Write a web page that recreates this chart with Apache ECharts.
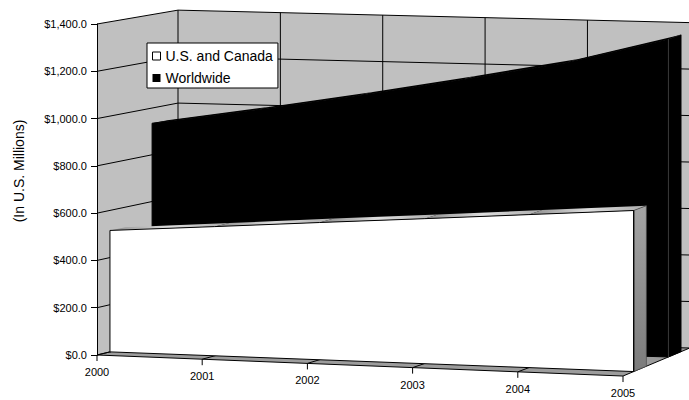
<!DOCTYPE html>
<html>
<head>
<meta charset="utf-8">
<script src="https://cdn.jsdelivr.net/npm/echarts@6/dist/echarts.min.js"></script>
<style>
  html, body { margin: 0; padding: 0; background: #fff; }
  #chart { width: 689px; height: 400px; }
</style>
</head>
<body>
<div id="chart"></div>
<script>
// Revenue by year (US$ millions)
const years = ['2000', '2001', '2002', '2003', '2004', '2005'];
const usCanada = [515, 548, 582, 615, 649, 683];
const worldwide = [935, 1005, 1080, 1160, 1245, 1360];
const yTicks = [0, 200, 400, 600, 800, 1000, 1200, 1400];

const FONT = '"Liberation Sans", Arial, Helvetica, sans-serif';
const WALL = '#c0c0c0';
const FLOOR = '#9c9c9c';
const LAST_X = years.length - 1;
const TOP_V = yTicks[yTicks.length - 1];

// Oblique 3-D view of the plot box. The grid is the front plane; depth 0..1
// runs from the front plane to the back wall.
const VIEW = {
  depthDX: 81,        // shift of the back wall's origin
  depthDY: -19.5,
  backScaleX: 0.973,  // back wall is slightly smaller (perspective)
  backScaleY: 0.983,
  frontSlope: 0.04,   // floor edge falls toward the right
  backSlope: 0.0244
};

function project(api, x, v, d) {
  const p = api.coord([x, v]);
  const o = api.coord([0, 0]);
  const fx = p[0];
  const fy = p[1] + VIEW.frontSlope * (p[0] - o[0]);
  const bx = o[0] + VIEW.depthDX + (p[0] - o[0]) * VIEW.backScaleX;
  const by = o[1] + VIEW.depthDY + (p[1] - o[1]) * VIEW.backScaleY
           + VIEW.backSlope * (bx - o[0] - VIEW.depthDX);
  return [fx + (bx - fx) * d, fy + (by - fy) * d];
}

function line(points, color, z2, width) {
  return {
    type: 'polyline', z2: z2 || 0,
    shape: { points: points },
    style: { stroke: color, lineWidth: width || 1, fill: null }
  };
}

// Left wall, back wall and floor
function renderWalls(params, api) {
  const P = (x, v, d) => project(api, x, v, d);
  return {
    type: 'group',
    children: [
      { type: 'polygon', shape: { points: [P(0, 0, 0), P(0, TOP_V, 0), P(0, TOP_V, 1), P(0, 0, 1)] },
        style: { fill: WALL } },
      { type: 'polygon', shape: { points: [P(0, 0, 1), P(LAST_X, 0, 1), P(LAST_X, TOP_V, 1), P(0, TOP_V, 1)] },
        style: { fill: WALL } },
      { type: 'polygon', shape: { points: [P(0, 0, 0), P(LAST_X, 0, 0), P(LAST_X, 0, 1), P(0, 0, 1)] },
        style: { fill: FLOOR } }
    ]
  };
}

// Value gridlines: across the left wall then along the back wall
function renderValueGrid(params, api) {
  const v = api.value(1);
  return line([project(api, 0, v, 0), project(api, 0, v, 1), project(api, LAST_X, v, 1)], '#000');
}

// Category gridlines: across the floor then up the back wall
function renderCategoryGrid(params, api) {
  const x = api.value(0);
  return line([project(api, x, 0, 0), project(api, x, 0, 1), project(api, x, TOP_V, 1)], '#000');
}

// One depth row of the 3-D area: front face (drawn once, from every point of
// the series), a top face per segment and the right side face.
function slab(look) {
  return function (params, api) {
    const k = params.dataIndexInside;
    const n = params.dataInsideLength;
    const x = api.value(0), v = api.value(1);
    const P = (a, b, d) => project(api, a, b, d);
    const kids = [];
    if (k === 0) {
      const tops = [];
      for (let j = 0; j < n; j++) tops.push(P(api.value(0, j), api.value(1, j), look.d0));
      const baseL = P(api.value(0, 0), 0, look.d0);
      const baseR = P(api.value(0, n - 1), 0, look.d0);
      const outline = [baseL].concat(tops, [baseR]);
      kids.push({ type: 'polygon', z2: 2, shape: { points: outline },
                  style: { fill: look.front, stroke: look.edge, lineWidth: 1 } });
    }
    if (k < n - 1) {
      const x2 = api.value(0, k + 1), v2 = api.value(1, k + 1);
      kids.push({ type: 'polygon', z2: 1,
        shape: { points: [P(x, v, look.d0), P(x2, v2, look.d0), P(x2, v2, look.d1), P(x, v, look.d1)] },
        style: { fill: look.top } });
    } else {
      const base = P(x, 0, look.d0), top = P(x, v, look.d0);
      kids.push({ type: 'polygon', z2: 1,
        shape: { points: [base, top, P(x, v, look.d1), P(x, 0, look.d1)] },
        style: { fill: look.side, stroke: look.sideEdge, lineWidth: 0.7 } });
      kids.push(line([base, top], look.rightEdge, 3));
    }
    return { type: 'group', children: kids };
  };
}

// Front floor edge with year ticks and labels
function renderCategoryAxis(params, api) {
  const k = params.dataIndexInside;
  const x = api.value(0);
  const a = project(api, x, 0, 0);
  const kids = [
    line([a, [a[0], a[1] + 6]], '#000', 2),
    { type: 'text', x: a[0], y: a[1] + 17,
      style: { text: years[params.dataIndex], align: 'center', verticalAlign: 'middle',
               fontFamily: FONT, fontSize: 11, fill: '#000' } }
  ];
  if (k < params.dataInsideLength - 1) {
    kids.push(line([a, project(api, api.value(0, k + 1), 0, 0)], '#000', 2));
  }
  return { type: 'group', children: kids };
}

const usLook = {
  d0: 0.16, d1: 0.35,
  front: '#ffffff',
  top: { type: 'linear', x: 0, y: 0, x2: 1, y2: 0,
         colorStops: [{ offset: 0, color: '#8a8a8a' }, { offset: 0.5, color: '#dedede' }, { offset: 1, color: '#aaaaaa' }] },
  side: { type: 'linear', x: 0, y: 0, x2: 0, y2: 1,
          colorStops: [{ offset: 0, color: '#a4a4a4' }, { offset: 1, color: '#7c7c7c' }] },
  edge: '#000', rightEdge: '#000', sideEdge: '#4a4a4a'
};
const wwLook = {
  d0: 0.68, d1: 0.87,
  front: '#000000', top: '#000000', side: '#000000',
  edge: '#000', rightEdge: '#3a3a3a', sideEdge: '#000'
};

const chart = echarts.init(document.getElementById('chart'), null, { renderer: 'svg', width: 689, height: 400 });

chart.setOption({
  animation: false,
  backgroundColor: '#fff',
  grid: { left: 97, top: 24, right: 66, bottom: 45, containLabel: false },
  xAxis: {
    type: 'category', data: years, boundaryGap: false, show: false
  },
  yAxis: {
    type: 'value', min: 0, max: TOP_V, interval: 200, z: 10,
    axisLine: { show: true, lineStyle: { color: '#000', width: 1 } },
    axisTick: { show: true, length: 6, lineStyle: { color: '#000' } },
    splitLine: { show: false },
    axisLabel: {
      margin: 10, color: '#000', fontFamily: FONT, fontSize: 11,
      formatter: v => '$' + v.toLocaleString('en-US', { minimumFractionDigits: 1, maximumFractionDigits: 1 })
    }
  },
  legend: {
    orient: 'vertical', left: 147, top: 43, z: 20,
    padding: [6, 5, 3, 5], itemGap: 8, itemWidth: 8, itemHeight: 8,
    backgroundColor: '#fff', borderColor: '#000', borderWidth: 1, borderRadius: 0,
    selectedMode: false,
    textStyle: { fontFamily: FONT, fontSize: 14, color: '#000' },
    data: [
      { name: 'U.S. and Canada', icon: 'rect', itemStyle: { color: '#fff', borderColor: '#000', borderWidth: 1 } },
      { name: 'Worldwide', icon: 'rect', itemStyle: { color: '#000', borderWidth: 0 } }
    ]
  },
  graphic: [{
    type: 'text', x: 19, y: 171, rotation: Math.PI / 2,
    style: { text: '(In U.S. Millions)', align: 'center', verticalAlign: 'middle',
             fontFamily: FONT, fontSize: 14, fill: '#000' }
  }],
  series: [
    { type: 'custom', name: 'walls', z: 0, silent: true,
      data: [[0, 0]], renderItem: renderWalls },
    { type: 'custom', name: 'valueGrid', z: 1, silent: true,
      data: yTicks.map(v => [0, v]), renderItem: renderValueGrid },
    { type: 'custom', name: 'categoryGrid', z: 1, silent: true,
      data: years.map((y, i) => [i, 0]), renderItem: renderCategoryGrid },
    { type: 'custom', name: 'Worldwide', z: 2, itemStyle: { color: '#000' },
      data: worldwide.map((v, i) => [i, v]), renderItem: slab(wwLook) },
    { type: 'custom', name: 'U.S. and Canada', z: 3, itemStyle: { color: '#fff' },
      data: usCanada.map((v, i) => [i, v]), renderItem: slab(usLook) },
    { type: 'custom', name: 'categoryAxis', z: 4, silent: true,
      data: years.map((y, i) => [i, 0]), renderItem: renderCategoryAxis }
  ]
});
</script>
</body>
</html>
